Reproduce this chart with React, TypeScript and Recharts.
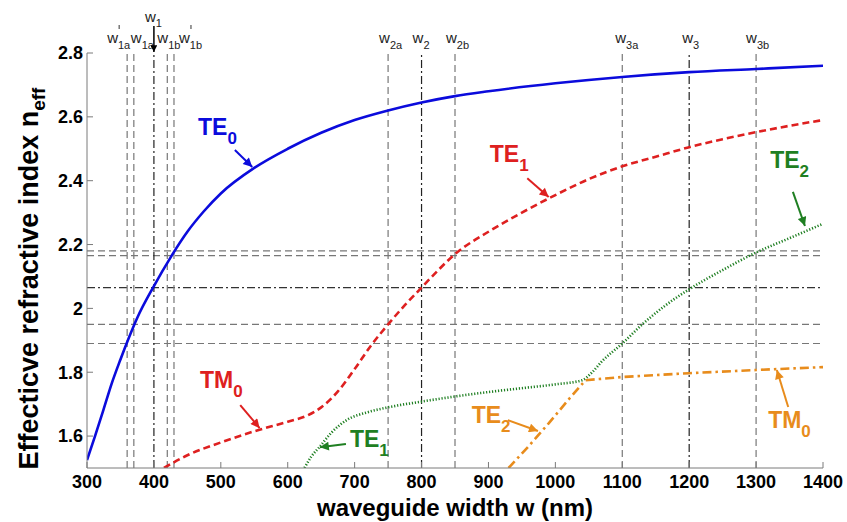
import { LineChart, Line, XAxis, YAxis, ReferenceLine, ReferenceDot } from 'recharts';

const FONT = "'Liberation Sans', Arial, Helvetica, sans-serif";
const BLUE = '#0b0bdc';
const RED = '#de2020';
const GREEN = '#1f7f22';
const ORANGE = '#e88c1c';

// waveguide width (nm) / effective index
const blueWidth = [300, 312, 325, 337, 350, 362, 375, 400, 425, 450, 475, 500, 550, 600, 650, 700, 750, 800, 850, 900, 1000, 1100, 1200, 1300, 1400];
const blueNeff = [1.525, 1.6, 1.685, 1.765, 1.84, 1.905, 1.97, 2.07, 2.16, 2.24, 2.305, 2.36, 2.44, 2.5, 2.55, 2.59, 2.62, 2.645, 2.665, 2.68, 2.705, 2.725, 2.74, 2.75, 2.76];

const redWidth = [415, 450, 500, 550, 600, 630, 650, 675, 700, 725, 750, 775, 800, 825, 850, 900, 950, 1000, 1050, 1100, 1150, 1200, 1250, 1300, 1350, 1400];
const redNeff = [1.5, 1.54, 1.58, 1.615, 1.645, 1.665, 1.69, 1.74, 1.81, 1.885, 1.95, 2.01, 2.065, 2.12, 2.17, 2.24, 2.3, 2.355, 2.405, 2.445, 2.475, 2.505, 2.53, 2.552, 2.572, 2.59];

const greenWidth = [625, 635, 648, 665, 688, 720, 750, 800, 850, 900, 950, 1000, 1040, 1055, 1070, 1100, 1130, 1165, 1200, 1250, 1300, 1350, 1400];
const greenNeff = [1.5, 1.535, 1.567, 1.61, 1.65, 1.675, 1.69, 1.708, 1.724, 1.738, 1.75, 1.762, 1.775, 1.8, 1.835, 1.89, 1.95, 2.01, 2.06, 2.12, 2.175, 2.22, 2.265];

const orangeWidth = [930, 960, 990, 1020, 1045, 1100, 1200, 1300, 1400];
const orangeNeff = [1.5, 1.568, 1.64, 1.715, 1.775, 1.785, 1.797, 1.807, 1.816];

const xTicks = [300, 400, 500, 600, 700, 800, 900, 1000, 1100, 1200, 1300, 1400];
const yTicks = [1.6, 1.8, 2, 2.2, 2.4, 2.6, 2.8];

// marker lines
const vLineW = [360, 370, 400, 420, 430, 750, 800, 850, 1100, 1200, 1300];
const vLineSub = ['1a', '1a', '1', '1b', '1b', '2a', '2', '2b', '3a', '3', '3b'];
const vLinePrime = [true, false, false, false, true, false, false, false, false, false, false];
const vLineMain = [false, false, true, false, false, false, true, false, false, true, false];
const vLabelDx = [-20, -3, -9, -10, 5, -9, -9, -9, -7, -7, -10];

const hLineN = [2.18, 2.165, 2.065, 1.95, 1.89];
const hLineMain = [false, false, true, false, false];

// mode labels and arrows (data coords)
const modeLabels = [
  { w: 466, n: 2.543, text: 'TE', sub: '0', color: BLUE },
  { w: 902, n: 2.46, text: 'TE', sub: '1', color: RED },
  { w: 1321, n: 2.44, text: 'TE', sub: '2', color: GREEN },
  { w: 469, n: 1.75, text: 'TM', sub: '0', color: RED },
  { w: 693, n: 1.566, text: 'TE', sub: '1', color: GREEN },
  { w: 875, n: 1.641, text: 'TE', sub: '2', color: ORANGE },
  { w: 1318, n: 1.625, text: 'TM', sub: '0', color: ORANGE },
];
const modeArrows = [
  { from: [521, 2.496], to: [547, 2.443], color: BLUE, id: 'blue' },
  { from: [958, 2.408], to: [990, 2.349], color: RED, id: 'red' },
  { from: [1355, 2.365], to: [1373, 2.258], color: GREEN, id: 'green' },
  { from: [529, 1.697], to: [558, 1.625], color: RED, id: 'red' },
  { from: [687, 1.575], to: [648, 1.565], color: GREEN, id: 'green' },
  { from: [929, 1.65], to: [974, 1.616], color: ORANGE, id: 'orange' },
  { from: [1348, 1.691], to: [1331, 1.807], color: ORANGE, id: 'orange' },
];

const toPoints = (ws: number[], ns: number[]) => ws.map((w, i) => ({ w, n: ns[i] }));

const markerColors: Record<string, string> = { blue: BLUE, red: RED, green: GREEN, orange: ORANGE, black: '#000' };

const topLabel = (i: number) => (props: any) => {
  const { x, y } = props.viewBox;
  const tx = x + vLabelDx[i];
  if (i === 2) {
    return (
      <g>
        <text x={tx} y={y - 31} fontSize={15} fontFamily={FONT} fill="#222">
          w<tspan dy={5} fontSize={11}>{vLineSub[i]}</tspan>
        </text>
        <line x1={x} y1={y - 27} x2={x} y2={y - 1} stroke="#000" strokeWidth={1.5} markerEnd="url(#ah-black)" />
      </g>
    );
  }
  return (
    <g>
      <text x={tx} y={y - 10} fontSize={15} fontFamily={FONT} fill="#222">
        w<tspan dy={6} fontSize={11}>{vLineSub[i]}</tspan>
      </text>
      {vLinePrime[i] && (
        <line x1={tx + 12} y1={y - 28} x2={tx + 12} y2={y - 24} stroke="#333" strokeWidth={1} />
      )}
    </g>
  );
};

const yLabel = (props: any) => {
  const { y, height } = props.viewBox;
  const cx = 38;
  const cy = y + height / 2 + 18;
  return (
    <text x={cx} y={cy} transform={`rotate(-90 ${cx} ${cy})`} textAnchor="middle" fontSize={27} fontWeight="bold" fontFamily={FONT} fill="#000">
      Effecticve refractive index n<tspan dy={7} fontSize={19}>eff</tspan>
    </text>
  );
};

const xLabel = (props: any) => {
  const { x, y, width } = props.viewBox;
  return (
    <text x={x + width / 2} y={y + 48} textAnchor="middle" fontSize={24} fontWeight="bold" fontFamily={FONT} fill="#000">
      waveguide width w (nm)
    </text>
  );
};

export default function App() {
  const axisStroke = { stroke: '#7a7a7a' };
  const tickStyle = { fill: '#000', fontSize: 18, fontWeight: 'bold', fontFamily: FONT };
  return (
    <div style={{ position: 'absolute', left: 0, top: 0, background: '#fff', fontFamily: FONT }}>
      <LineChart width={847} height={522} margin={{ top: 53, right: 24, bottom: 0, left: 0 }}>
        <defs>
          {Object.keys(markerColors).map((k) => (
            <marker key={k} id={`ah-${k}`} viewBox="0 0 10 10" refX={10} refY={5} markerWidth={5} markerHeight={4.5} orient="auto" markerUnits="strokeWidth">
              <path d="M0,0 L10,5 L0,10 z" fill={markerColors[k]} />
            </marker>
          ))}
        </defs>
        <XAxis
          xAxisId={0}
          dataKey="w"
          type="number"
          domain={[300, 1400]}
          ticks={xTicks}
          allowDataOverflow
          height={54}
          tickSize={-6}
          tickMargin={13}
          axisLine={axisStroke}
          tickLine={axisStroke}
          tick={tickStyle}
          label={xLabel}
        />
        <XAxis xAxisId="top" orientation="top" type="number" domain={[300, 1400]} ticks={xTicks} allowDataOverflow height={0} tickSize={-6} tick={false} axisLine={axisStroke} tickLine={axisStroke} />
        <YAxis
          yAxisId={0}
          type="number"
          domain={[1.5, 2.8]}
          ticks={yTicks}
          allowDataOverflow
          width={87}
          tickSize={-6}
          tickMargin={10}
          axisLine={axisStroke}
          tickLine={axisStroke}
          tick={tickStyle}
          label={yLabel}
        />
        <YAxis yAxisId="right" orientation="right" type="number" domain={[1.5, 2.8]} ticks={yTicks} allowDataOverflow width={0} tickSize={-6} tick={false} axisLine={axisStroke} tickLine={axisStroke} />

        {hLineN.map((n, i) => (
          <ReferenceLine key={`h${i}`} y={n} stroke={hLineMain[i] ? '#333' : '#777'} strokeWidth={1.2} strokeDasharray={hLineMain[i] ? '8 3 2 3' : '7 4'} />
        ))}
        {vLineW.map((w, i) => (
          <ReferenceLine key={`v${i}`} x={w} stroke={vLineMain[i] ? '#222' : '#777'} strokeWidth={1.2} strokeDasharray={vLineMain[i] ? '8 3 2 3' : '7 4'} label={topLabel(i)} />
        ))}

        <Line data={toPoints(blueWidth, blueNeff)} dataKey="n" type="monotone" stroke={BLUE} strokeWidth={2.6} dot={false} isAnimationActive={false} />
        <Line data={toPoints(redWidth, redNeff)} dataKey="n" type="monotone" stroke={RED} strokeWidth={2.6} strokeDasharray="7 4" dot={false} isAnimationActive={false} />
        <Line data={toPoints(greenWidth, greenNeff)} dataKey="n" type="monotone" stroke={GREEN} strokeWidth={2.6} strokeDasharray="1.2 1.8" dot={false} isAnimationActive={false} />
        <Line data={toPoints(orangeWidth, orangeNeff)} dataKey="n" type="linear" stroke={ORANGE} strokeWidth={2.6} strokeDasharray="9 4 2.5 4" dot={false} isAnimationActive={false} />

        {modeArrows.map((a, i) => (
          <ReferenceLine
            key={`a${i}`}
            segment={[{ x: a.from[0], y: a.from[1] }, { x: a.to[0], y: a.to[1] }]}
            stroke={a.color}
            strokeWidth={2}
            markerEnd={`url(#ah-${a.id})`}
          />
        ))}
        {modeLabels.map((m, i) => (
          <ReferenceDot
            key={`m${i}`}
            x={m.w}
            y={m.n}
            r={0}
            shape={(p: any) => (
              <text x={p.cx} y={p.cy} fontSize={23} fontWeight="bold" fontFamily={FONT} fill={m.color}>
                {m.text}
                <tspan dy={9} fontSize={17}>{m.sub}</tspan>
              </text>
            )}
          />
        ))}
      </LineChart>
    </div>
  );
}
